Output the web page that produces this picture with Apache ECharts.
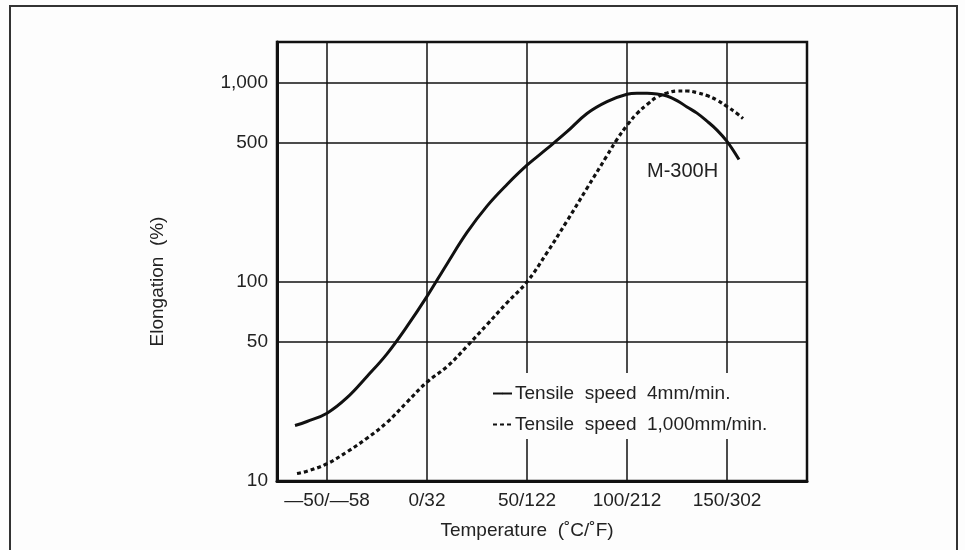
<!DOCTYPE html>
<html>
<head>
<meta charset="utf-8">
<script src="https://cdn.jsdelivr.net/npm/echarts@6/dist/echarts.min.js"></script>
<style>
  html, body { margin: 0; padding: 0; background: #fdfdfd; }
  #chart { width: 965px; height: 550px; }
</style>
</head>
<body>
<div id="chart"></div>
<script>
// Axis ticks (temperature in °C with the °F equivalent in the label)
const xTickValues = [-50, 0, 50, 100, 150];
const xTickLabels = ['—50/—58', '0/32', '50/122', '100/212', '150/302'];
const yTickValues = [10, 50, 100, 500, 1000];
const yTickLabels = ['10', '50', '100', '500', '1,000'];

const seriesNames = ['Tensile  speed  4mm/min.', 'Tensile  speed  1,000mm/min.'];
const gradeLabel = 'M-300H';

// Elongation (%) vs temperature (°C), tensile speed 4 mm/min
const slowTemp  = [-66, -60, -50, -40, -30, -20, -10, 0, 10, 20, 30, 40, 50, 60, 70, 80, 90, 100, 105, 110, 115, 120, 125, 130, 135, 140, 145, 150, 156];
const slowElong = [19, 19.9, 21.9, 26.2, 33.5, 43.5, 59.7, 84.5, 123, 177, 240, 308, 385, 466, 567, 700, 803, 875, 885, 885, 877, 857, 813, 755, 703, 641, 578, 507, 411];

// Elongation (%) vs temperature (°C), tensile speed 1,000 mm/min
const fastTemp  = [-65, -60, -50, -40, -30, -20, -10, 0, 10, 20, 30, 40, 50, 60, 70, 80, 90, 95, 100, 105, 110, 115, 120, 125, 130, 135, 140, 145, 150, 155, 158];
const fastElong = [10.9, 11.2, 12.2, 14, 16.4, 19.7, 24.9, 31.4, 37.5, 47.5, 61, 78.5, 100, 140, 202, 295, 430, 519, 610, 700, 776, 847, 887, 908, 908, 891, 861, 817, 759, 700, 661];

const FONT = '"Liberation Sans", Arial, Helvetica, sans-serif';
const INK = '#111';
const TEXT = '#222';
const PAPER = '#fdfdfd';

function nearestIndex(values, v, useLog) {
  let best = 0, bestD = Infinity;
  values.forEach((t, i) => {
    const d = useLog ? Math.abs(Math.log10(t) - Math.log10(v)) : Math.abs(t - v);
    if (d < bestD) { bestD = d; best = i; }
  });
  return best;
}

const zip = (xs, ys) => xs.map((x, i) => [x, ys[i]]);

const chart = echarts.init(document.getElementById('chart'), null, { renderer: 'canvas' });

chart.setOption({
  backgroundColor: PAPER,
  animation: false,
  textStyle: { fontFamily: FONT },
  grid: {
    left: 277, right: 158, top: 42, bottom: 69,
    show: true, borderColor: INK, borderWidth: 2.5, backgroundColor: 'transparent'
  },
  legend: {
    orient: 'vertical',
    left: 489, top: 373,
    padding: [11, 28, 5, 3],
    backgroundColor: PAPER,
    itemWidth: 19, itemHeight: 2, itemGap: 12,
    textStyle: { fontSize: 19, color: TEXT, fontFamily: FONT, padding: [0, 0, 0, -2] },
    data: seriesNames
  },
  xAxis: {
    type: 'value',
    min: -75, max: 190,
    name: 'Temperature  (˚C/˚F)',
    nameLocation: 'middle',
    nameGap: 40,
    nameTextStyle: { fontSize: 19, color: TEXT, fontFamily: FONT, padding: [0, 30, 0, 0] },
    axisLine: { show: true, onZero: false, lineStyle: { color: INK, width: 3 } },
    axisTick: { show: false, customValues: xTickValues },
    axisLabel: {
      customValues: xTickValues,
      fontSize: 19, color: TEXT, fontFamily: FONT, margin: 10,
      formatter: v => xTickLabels[nearestIndex(xTickValues, v, false)]
    },
    splitLine: { show: true, lineStyle: { color: INK, width: 1.5 } }
  },
  yAxis: {
    type: 'log',
    logBase: 10,
    min: 10, max: 1600,
    name: 'Elongation  (%)',
    nameLocation: 'middle',
    nameGap: 110,
    nameTextStyle: { fontSize: 19, color: TEXT, fontFamily: FONT, padding: [0, 40, 0, 0] },
    axisLine: { show: true, onZero: false, lineStyle: { color: INK, width: 3 } },
    axisTick: { show: false, customValues: yTickValues },
    axisLabel: {
      customValues: yTickValues,
      fontSize: 19, color: TEXT, fontFamily: FONT, margin: 9,
      formatter: v => yTickLabels[nearestIndex(yTickValues, v, true)]
    },
    splitLine: { show: true, lineStyle: { color: INK, width: 1.5 } },
    minorTick: { show: false },
    minorSplitLine: { show: false }
  },
  series: [
    {
      name: seriesNames[0],
      type: 'line',
      data: zip(slowTemp, slowElong),
      smooth: 0.4,
      symbol: 'none',
      lineStyle: { color: INK, width: 3, type: 'solid' },
      itemStyle: { color: INK }
    },
    {
      name: seriesNames[1],
      type: 'line',
      data: zip(fastTemp, fastElong),
      smooth: 0.4,
      symbol: 'none',
      lineStyle: { color: INK, width: 3.2, type: [4, 3] },
      itemStyle: { color: INK }
    }
  ],
  graphic: [
    {
      type: 'text',
      left: 647, top: 161,
      style: { text: gradeLabel, fontSize: 20, fill: TEXT, fontFamily: FONT }
    },
    {
      type: 'rect',
      silent: true,
      shape: { x: 10, y: 6, width: 947, height: 560 },
      style: { fill: 'none', stroke: '#333', lineWidth: 2 }
    }
  ]
});
</script>
</body>
</html>
